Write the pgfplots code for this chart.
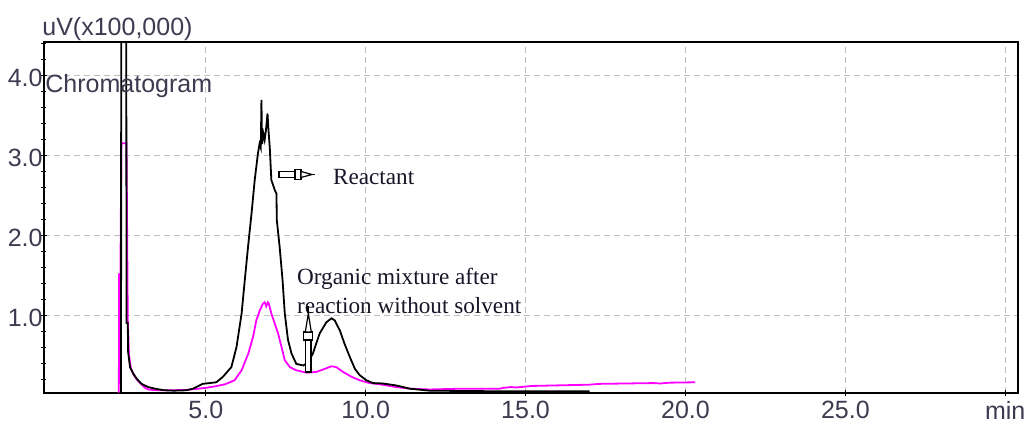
\documentclass[border=0pt]{standalone}
\usepackage{fontspec}
\setmainfont{Liberation Sans}
\newfontfamily\annfont{Liberation Serif}
\usepackage{pgfplots}
\pgfplotsset{compat=1.18}

\definecolor{lbl}{RGB}{62,58,80}
\definecolor{ann}{RGB}{22,22,40}
\definecolor{mixcol}{RGB}{255,0,255}
\definecolor{gridcol}{RGB}{190,190,190}

% Organic mixture after reaction without solvent (magenta trace)
\pgfplotstableread{
t v
2.26 0.03
2.28 0.03
2.29 1.52
2.33 1.52
2.36 3.16
2.52 3.16
2.53 2.60
2.56 0.95
2.60 0.50
2.66 0.34
2.75 0.26
2.85 0.20
3.00 0.14
3.10 0.10
3.20 0.08
3.50 0.07
3.97 0.07
4.40 0.075
5.00 0.10
5.30 0.12
5.60 0.145
5.90 0.195
6.12 0.32
6.33 0.53
6.48 0.74
6.58 0.945
6.69 1.07
6.79 1.155
6.84 1.17
6.89 1.12
6.94 1.17
6.97 1.155
7.05 1.03
7.16 0.90
7.26 0.78
7.37 0.61
7.47 0.445
7.63 0.36
7.83 0.32
8.15 0.29
8.46 0.30
8.67 0.33
8.93 0.37
9.08 0.36
9.29 0.30
9.55 0.24
9.81 0.195
10.12 0.16
10.44 0.145
10.96 0.11
11.38 0.09
12.00 0.08
13.00 0.09
14.19 0.09
14.30 0.10
14.55 0.11
14.70 0.105
15.20 0.124
17.00 0.14
17.30 0.15
19.00 0.16
19.20 0.155
19.50 0.165
20.30 0.17
}\mixture

% Reactant (black trace)
\pgfplotstableread{
t v
2.30 0.04
2.35 0.04
2.36 12
2.50 12
2.52 0.91
2.56 0.91
2.57 0.55
2.63 0.36
2.73 0.28
2.83 0.22
2.99 0.15
3.20 0.11
3.46 0.086
3.70 0.07
4.00 0.065
4.40 0.07
4.60 0.09
4.90 0.15
5.33 0.17
5.54 0.24
5.80 0.36
5.96 0.61
6.12 1.03
6.22 1.45
6.32 1.86
6.43 2.28
6.53 2.70
6.63 3.03
6.68 3.15
6.72 3.10
6.74 3.70
6.76 3.15
6.80 3.28
6.84 3.20
6.88 3.32
6.93 3.53
6.96 3.32
7.00 3.11
7.05 2.70
7.16 2.57
7.21 2.53
7.22 2.20
7.31 1.86
7.40 1.45
7.47 1.03
7.57 0.70
7.68 0.53
7.83 0.40
8.05 0.38
8.20 0.42
8.35 0.53
8.56 0.78
8.77 0.92
8.93 0.97
9.03 0.945
9.19 0.82
9.34 0.65
9.50 0.49
9.66 0.34
9.81 0.26
10.02 0.195
10.23 0.16
10.54 0.155
10.96 0.13
11.38 0.09
12.00 0.065
14.00 0.058
17.00 0.058
}\reactant

\begin{document}
\begin{tikzpicture}
\begin{axis}[
  name=ax,
  scale only axis,
  width=487pt, height=175.5pt,
  xmin=-0.06, xmax=30.4,
  ymin=0.036, ymax=4.425,
  clip mode=individual,
  axis line style={line width=0.9pt, black},
  xtick={5,10,15,20,25,30},
  xticklabels={5.0,10.0,15.0,20.0,25.0,min},
  ytick={1,2,3,4},
  yticklabels={1.0,2.0,3.0,4.0},
  minor ytick={0.2,0.4,0.6,0.8,1.2,1.4,1.6,1.8,2.2,2.4,2.6,2.8,3.2,3.4,3.6,3.8,4.2,4.4},
  tick pos=left,
  tick align=center,
  major tick length=3pt,
  minor tick length=2.5pt,
  tick style={black, line width=0.5pt},
  grid=major,
  major grid style={gridcol, line width=0.5pt, dash pattern=on 3pt off 2pt},
  tick label style={font=\fontsize{12.5}{15}\selectfont, text=lbl, inner sep=0pt},
  yticklabel style={anchor=east, xshift=1pt, yshift=-1pt},
  xticklabel style={anchor=north, yshift=-2.5pt},
]
\addplot[mixcol, line width=0.9pt] table[x=t, y=v] {\mixture};
\addplot[black, line width=0.9pt] table[x=t, y=v] {\reactant};
\end{axis}

\coordinate (O) at ([xshift=-22pt,yshift=21pt]ax.north west);
\pgfresetboundingbox
\begin{scope}[shift={(O)}, x=0.5pt, y=-0.5pt]
  \path[use as bounding box] (0,0) rectangle (1032,422);

  % axis title and panel name
  \node[anchor=base west, inner sep=0pt, text=lbl, font=\fontsize{12.5}{15}\selectfont]
    at (42,36) {uV(x100,000)};
  \node[anchor=base west, inner sep=0pt, text=lbl, font=\fontsize{12.5}{15}\selectfont]
    at (45,92.7) {Chromatogram};

  % peak labels
  \node[anchor=base west, inner sep=0pt, text=ann, font=\annfont\fontsize{11.6}{14}\selectfont]
    at (332.7,185) {Reactant};
  \node[anchor=base west, inner sep=0pt, text=ann, font=\annfont\fontsize{11.6}{14}\selectfont]
    at (296.7,285) {Organic mixture after};
  \node[anchor=base west, inner sep=0pt, text=ann, font=\annfont\fontsize{11.6}{14}\selectfont]
    at (296.7,313.3) {reaction without solvent};

  % hollow pointer towards "Reactant"
  \begin{scope}[line width=0.6pt, draw=black, fill=white]
    \filldraw (279,171.8) rectangle (296,177.2);
    \filldraw (295,169.5) rectangle (301,179.5);
    \filldraw (301,171.5) -- (312,174.5) -- (301,177.5) -- cycle;
    \draw (312,174.5) -- (315,174.5);
  \end{scope}

  % hollow pointer towards the mixture label
  \begin{scope}[line width=0.6pt, draw=black, fill=white]
    \filldraw (305.5,340) rectangle (311,372);
    \filldraw (303.5,332) rectangle (312.5,340);
    \filldraw (305.3,332) -- (308.3,313.5) -- (311.3,332) -- cycle;
    \draw[line width=1pt] (308.3,313.5) -- (308.3,306.5);
  \end{scope}
\end{scope}
\end{tikzpicture}
\end{document}
